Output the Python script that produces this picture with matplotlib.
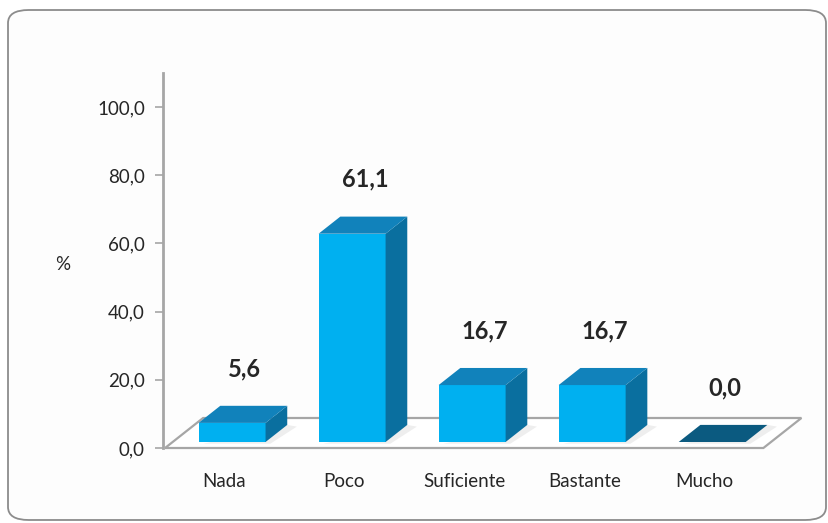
import matplotlib
matplotlib.use("Agg")
import matplotlib.pyplot as plt
from matplotlib.patches import Polygon, FancyBboxPatch

categories = ["Nada", "Poco", "Suficiente", "Bastante", "Mucho"]
values = [5.6, 61.1, 16.7, 16.7, 0.0]
yticks = [0, 20, 40, 60, 80, 100]

FRONT = "#00b0f0"
TOP = "#1182bb"
SIDE = "#0a6f9f"
FLAT = "#0b5a80"
GRID = "#a6a6a6"
TXT = "#262626"

plt.rcParams["font.family"] = ["Lato", "DejaVu Sans"]

fig = plt.figure(figsize=(8.29, 5.23), dpi=100)
fig.patch.set_facecolor("white")

# rounded chart frame
frame = FancyBboxPatch((8 / 829, 3 / 523), 818 / 829, 510 / 523,
                       boxstyle="round,pad=0,rounding_size=0.025",
                       transform=fig.transFigure, fc="#fdfdfd", ec="#8c8c8c",
                       lw=1.3, zorder=-1)
fig.patches.append(frame)

ax = fig.add_axes([163 / 829, 75 / 523, 652 / 829, 375 / 523])
ax.set_zorder(1)
ax.set_facecolor("none")
ax.set_xlim(-0.512, 4.92)
ax.set_ylim(0, 110)

# oblique depth: full floor depth in data units
DX, DY = 0.317, 8.8
z0, z1 = 0.2, 0.77
w = 0.558

# floor
fx0, fx1 = -0.495, 4.49
floor = Polygon([(fx0, 0), (fx1, 0), (fx1 + DX, DY), (fx0 + DX, DY)],
                closed=True, fc="white", ec=GRID, lw=1.6, zorder=1, clip_on=False)
ax.add_patch(floor)

for i, v in enumerate(values):
    x0 = i - w / 2 + z0 * DX
    x1 = x0 + w
    yb = z0 * DY
    ddx, ddy = (z1 - z0) * DX, (z1 - z0) * DY
    yt = yb + v
    # soft shadow on the floor
    ax.add_patch(Polygon([(x0 + 0.04, yb - 0.5), (x1 + 0.04, yb - 0.5),
                          (x1 + ddx + 0.08, yb + ddy - 0.5), (x1 + ddx, yb + ddy)],
                         closed=True, fc="#e3e3e3", ec="none", alpha=0.6,
                         zorder=2, clip_on=False))
    if v > 0:
        ax.add_patch(Polygon([(x0, yb), (x1, yb), (x1, yt), (x0, yt)],
                             closed=True, fc=FRONT, ec="none", zorder=3, clip_on=False))
        ax.add_patch(Polygon([(x1, yb), (x1 + ddx, yb + ddy), (x1 + ddx, yt + ddy), (x1, yt)],
                             closed=True, fc=SIDE, ec="none", zorder=3, clip_on=False))
        top_col = TOP
    else:
        top_col = FLAT
    ax.add_patch(Polygon([(x0, yt), (x1, yt), (x1 + ddx, yt + ddy), (x0 + ddx, yt + ddy)],
                         closed=True, fc=top_col, ec="none", zorder=4, clip_on=False))
    ax.text(i + 0.17, v + 17.7, f"{v:.1f}".replace(".", ","), ha="center", va="center",
            fontsize=17, fontweight="bold", color=TXT, zorder=5)

# axes styling
for s in ["top", "right", "bottom"]:
    ax.spines[s].set_visible(False)
ax.spines["left"].set_color(GRID)
ax.spines["left"].set_linewidth(2)
ax.spines["left"].set_zorder(6)
ax.set_yticks(yticks)
ax.set_yticklabels([f"{t:.1f}".replace(".", ",") for t in yticks])
ax.tick_params(axis="y", colors=GRID, labelcolor=TXT, length=6, width=1.2,
               labelsize=13.5, pad=7)
ax.set_xticks(range(len(categories)))
ax.set_xticklabels(categories)
ax.tick_params(axis="x", length=0, labelsize=13.5, labelcolor=TXT, pad=18)

fig.text(63 / 829, 1 - 265 / 523, "%", fontsize=13.5, color=TXT, ha="center", va="center")

fig.savefig("out.png", dpi=100)
